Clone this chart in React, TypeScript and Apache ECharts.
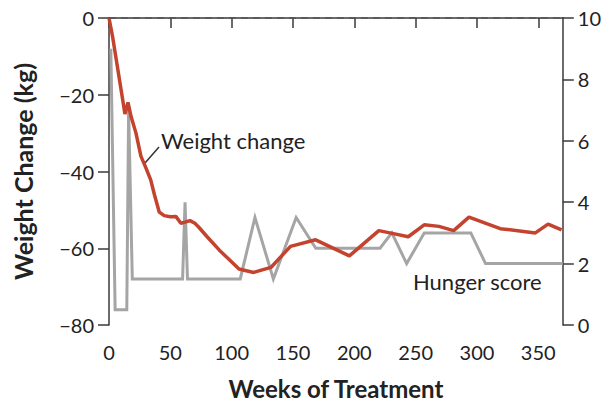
import React, { useEffect, useRef } from "react";
import * as echarts from "echarts";

const weeksTicks = [0, 50, 100, 150, 200, 250, 300, 350];

const weightData: [number, number][] = [
  [0, 0], [3, -5], [6, -11], [9, -17], [11, -21], [13, -25], [15.5, -22], [18, -25.7],
  [22, -30], [26, -36], [30, -39], [34, -42.2], [37, -46], [41, -50.6], [45, -51.5],
  [50, -51.8], [54.5, -51.7], [58.6, -53.5], [62, -53.2], [66, -52.8], [70, -53.5],
  [73.4, -54.6], [80, -57], [90, -60.5], [106, -65.4], [118, -66.3], [132, -65],
  [148, -59.5], [168.5, -57.8], [196, -62], [220, -55.4], [229, -56], [244, -57],
  [257, -53.9], [269, -54.3], [281, -55.4], [293.5, -51.9], [319, -54.9],
  [347.6, -56], [358, -53.7], [369, -55.2],
];

const hungerData: [number, number][] = [
  [1.5, 9], [5, 0.5], [14.5, 0.5], [16, 7], [19, 1.5], [60, 1.5], [62, 4], [64, 1.5],
  [107, 1.5], [119, 3.5], [134, 1.5], [152.6, 3.5], [168.6, 2.5], [221, 2.5],
  [230.6, 3], [242.7, 2], [257, 3], [295, 3], [307, 2], [370, 2],
];

const FONT = "Lato";
const AXIS_COLOR = "#3a3a3a";
const TEXT_COLOR = "#222";

export default function App() {
  const ref = useRef<HTMLDivElement>(null);

  useEffect(() => {
    if (!ref.current) return;
    const chart = echarts.init(ref.current, null, { renderer: "svg" });
    chart.setOption({
      animation: false,
      backgroundColor: "#fff",
      grid: { left: 109, right: 37, top: 18, bottom: 80, containLabel: false },
      xAxis: {
        type: "value",
        min: 0,
        max: 370,
        name: "Weeks of Treatment",
        nameLocation: "middle",
        nameGap: 51,
        nameTextStyle: { fontFamily: FONT, fontSize: 24, fontWeight: "bold", color: TEXT_COLOR },
        axisLine: { show: true, lineStyle: { color: AXIS_COLOR, width: 1.5 } },
        axisTick: { show: true, length: 10, lineStyle: { color: AXIS_COLOR, width: 1.5 }, customValues: weeksTicks },
        axisLabel: { fontFamily: FONT, fontSize: 20, color: TEXT_COLOR, margin: 17, customValues: weeksTicks },
        splitLine: { show: false },
      },
      yAxis: [
        {
          type: "value",
          min: -80,
          max: 0,
          interval: 20,
          position: "left",
          name: "Weight Change (kg)",
          nameLocation: "middle",
          nameGap: 74,
          nameTextStyle: { fontFamily: FONT, fontSize: 25, fontWeight: "bold", color: TEXT_COLOR },
          axisLine: { show: true, lineStyle: { color: AXIS_COLOR, width: 1.5 } },
          axisTick: { show: true, length: 11, lineStyle: { color: AXIS_COLOR, width: 1.5 } },
          axisLabel: {
            fontFamily: FONT, fontSize: 20, color: TEXT_COLOR, margin: 15,
            formatter: (v: number) => (v < 0 ? "\u2212" + Math.abs(v) : String(v)),
          },
          splitLine: { show: false },
        },
        {
          type: "value",
          min: 0,
          max: 10,
          interval: 2,
          position: "right",
          axisLine: { show: true, lineStyle: { color: AXIS_COLOR, width: 1.5 } },
          axisTick: { show: true, length: 11, lineStyle: { color: AXIS_COLOR, width: 1.5 } },
          axisLabel: { fontFamily: FONT, fontSize: 20, color: TEXT_COLOR, margin: 15 },
          splitLine: { show: false },
        },
      ],
      series: [
        {
          type: "line",
          name: "Hunger score",
          yAxisIndex: 1,
          data: hungerData,
          showSymbol: false,
          symbol: "none",
          lineStyle: { color: "#a5a5a5", width: 3, join: "miter" },
          z: 2,
        },
        {
          type: "line",
          name: "Weight change",
          yAxisIndex: 0,
          data: weightData,
          showSymbol: false,
          symbol: "none",
          lineStyle: { color: "#c4432e", width: 3.5 },
          z: 3,
          markLine: {
            silent: true,
            symbol: "none",
            label: { show: false },
            lineStyle: { color: "#555", type: [7, 5], width: 1.5 },
            data: [{ yAxis: 0 }],
          },
        },
      ],
      graphic: [
        {
          type: "line",
          shape: { x1: 145, y1: 163, x2: 159, y2: 147 },
          style: { stroke: "#333", lineWidth: 1.5 },
        },
        {
          type: "text",
          x: 161,
          y: 140,
          style: { text: "Weight change", fontFamily: FONT, fontSize: 22, fill: TEXT_COLOR, textVerticalAlign: "middle" },
        },
        {
          type: "text",
          x: 413,
          y: 281,
          style: { text: "Hunger score", fontFamily: FONT, fontSize: 22, fill: TEXT_COLOR, textVerticalAlign: "middle" },
        },
      ],
    });
    return () => chart.dispose();
  }, []);

  return (
    <div
      ref={ref}
      style={{ position: "fixed", left: 0, top: 0, width: 604, height: 405, background: "#fff" }}
    />
  );
}
